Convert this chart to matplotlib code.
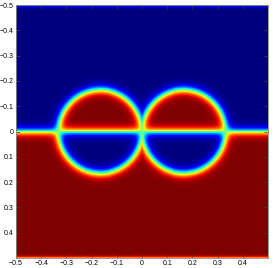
import numpy as np
import matplotlib
matplotlib.use("Agg")
from matplotlib import pyplot as plt

# geometry (domain units)
CENTERS_X = [-0.165, 0.165]
CENTERS_Y = [0.0, 0.0]
RADIUS = 0.165
EPS = 0.019          # interface half-width
EDGE_EPS = 0.008     # top/bottom boundary layer width
EDGE_SHIFT = 0.003
N = 256

XTICKS = [-0.5, -0.4, -0.3, -0.2, -0.1, 0, 0.1, 0.2, 0.3, 0.4]
YTICKS = [-0.5, -0.4, -0.3, -0.2, -0.1, 0, 0.1, 0.2, 0.3, 0.4]
XTICK_LABELS = ["\u22120.5", "\u22120.4", "\u22120.3", "\u22120.2", "\u22120.1",
                "0", "0.1", "0.2", "0.3", "0.4"]
YTICK_LABELS = ["\u22120.5", "\u22120.4", "\u22120.3", "\u22120.2", "\u22120.1",
                "0", "0.1", "0.2", "0.3", "0.4"]

plt.rcParams['font.family'] = ['Liberation Sans', 'DejaVu Sans']

h = 1.0 / N
xs = np.linspace(-0.5 + h / 2, 0.5 - h / 2, N)
ys = np.linspace(-0.5 + h / 2, 0.5 - h / 2, N)
X, Y = np.meshgrid(xs, ys)

dist = np.min([np.hypot(X - cx, Y - cy) - RADIUS for cx, cy in zip(CENTERS_X, CENTERS_Y)], axis=0)
field = np.tanh(Y / EPS) * np.tanh(dist / EPS)
field *= np.tanh((0.5 - np.abs(Y) + EDGE_SHIFT) / EDGE_EPS)

fig = plt.figure(figsize=(2.73, 2.68), dpi=100)
ax = fig.add_axes([16 / 273, 10 / 268, 252 / 273, 253 / 268])

ax.imshow(field, cmap="jet", vmin=-1, vmax=1, origin="upper",
          extent=[-0.5, 0.5, 0.5, -0.5], interpolation="nearest", aspect="auto")
ax.set_xlim(-0.5, 0.5)
ax.set_ylim(0.5, -0.5)

ax.set_xticks(XTICKS)
ax.set_xticklabels(XTICK_LABELS)
ax.set_yticks(YTICKS)
ax.set_yticklabels(YTICK_LABELS)
ax.tick_params(direction="in", length=3, width=0.5, labelsize=5, pad=1.5,
               top=True, right=True, colors="#444444", labelcolor="black")
for s in ax.spines.values():
    s.set_color("#888888")
    s.set_linewidth(0.6)

fig.savefig("out.png", dpi=100)
